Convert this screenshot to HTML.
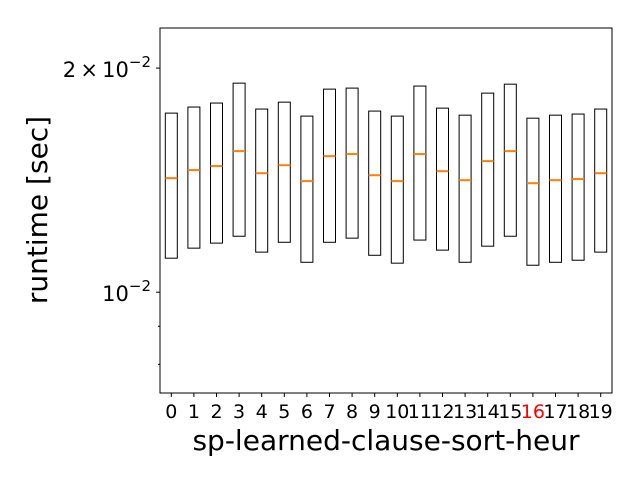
<!DOCTYPE html>
<html><head><meta charset="utf-8"><style>body{margin:0;background:#fff}svg{display:block;font-family:"DejaVu Sans","Liberation Sans",sans-serif}</style></head>
<body>
<svg id="chart" width="640" height="480">
<rect x="160" y="28" width="452" height="365" fill="#fff" stroke="#000" stroke-width="1"/>
<g id="marks"></g><g id="axes"></g>
<text transform="translate(47,210) rotate(-90)" text-anchor="middle" font-size="28">runtime [sec]</text>
<text x="386" y="450" text-anchor="middle" font-size="28">sp-learned-clause-sort-heur</text>
</svg>
<script>
const categories=["0","1","2","3","4","5","6","7","8","9","10","11","12","13","14","15","16","17","18","19"];
const boxTop=[1.740,1.773,1.795,1.909,1.762,1.800,1.724,1.874,1.880,1.751,1.724,1.892,1.767,1.729,1.851,1.903,1.713,1.729,1.735,1.762];
const boxBottom=[1.111,1.146,1.164,1.189,1.132,1.167,1.097,1.167,1.182,1.121,1.094,1.175,1.139,1.097,1.153,1.189,1.087,1.097,1.104,1.132];
const medians=[1.423,1.459,1.477,1.547,1.445,1.481,1.410,1.523,1.533,1.436,1.410,1.533,1.454,1.414,1.500,1.547,1.401,1.414,1.419,1.445];
const valueScale=0.01;
const highlight="16";
const NS="http://www.w3.org/2000/svg";
const x0=160,x1=612,y0=28,y1=393;
const vMin=0.007322,vMax=0.02264;
function yScale(v){return y1-(Math.log10(v)-Math.log10(vMin))/(Math.log10(vMax)-Math.log10(vMin))*(y1-y0);}
const step=(x1-x0)/categories.length;
function xScale(i){return x0+step*(i+0.5);}
function mk(tag,attrs,parent){const e=document.createElementNS(NS,tag);for(const k in attrs)e.setAttribute(k,attrs[k]);parent.appendChild(e);return e;}
const marks=document.getElementById('marks'),axes=document.getElementById('axes');
categories.forEach((c,i)=>{
 const cx=xScale(i),w=12;
 const t=yScale(boxTop[i]*valueScale),b=yScale(boxBottom[i]*valueScale),m=yScale(medians[i]*valueScale);
 const r=mk('rect',{x:cx-w/2,y:t,width:w,height:b-t,fill:'none',stroke:'#000','stroke-width':1},marks);
 
 
 const l=mk('line',{x1:cx-w/2,x2:cx+w/2,y1:m,y2:m,stroke:'#ff7f0e','stroke-width':2},marks);
 
 
 mk('line',{x1:cx,x2:cx,y1:y1,y2:y1+4,stroke:'#000'},axes);
 const tx=mk('text',{x:cx,y:y1+25,'text-anchor':'middle','font-size':19,fill:c===highlight?'#ff0000':'#000'},axes);
 tx.textContent=c;
 
 
});
const minorTicks=[0.008,0.009];
minorTicks.forEach(v=>{const y=yScale(v);mk('line',{x1:x0-2,x2:x0,y1:y,y2:y,stroke:'#000'},axes);});
const majorTicks=[0.01,0.02];
const majorLabels=[["10","\u22122"],["2\u2009\u00d7\u200910","\u22122"]];
majorTicks.forEach((v,i)=>{
 const y=yScale(v);
 mk('line',{x1:x0-4,x2:x0,y1:y,y2:y,stroke:'#000'},axes);
 const t=mk('text',{x:x0-9,y:y+9,'text-anchor':'end','font-size':21},axes);
 
 
 const a=document.createElementNS(NS,'tspan');a.textContent=majorLabels[i][0];t.appendChild(a);
 const b=document.createElementNS(NS,'tspan');b.setAttribute('dy','-10');b.setAttribute('font-size','15');b.textContent=majorLabels[i][1];t.appendChild(b);
});
</script>
</body></html>
